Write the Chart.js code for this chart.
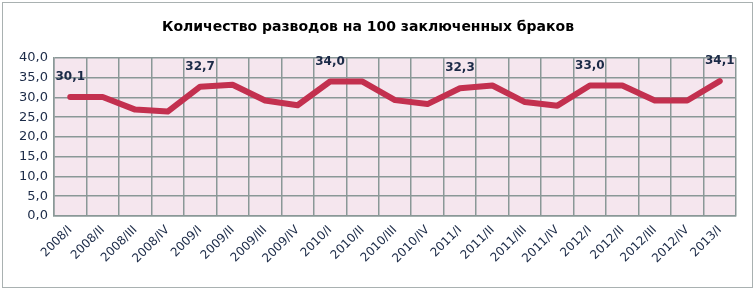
<!DOCTYPE html>
<html>
<head>
<meta charset="utf-8">
<script src="https://cdn.jsdelivr.net/npm/chart.js@4/dist/chart.umd.min.js"></script>
<style>
  body { margin: 0; background: #fff; }
  #wrap { position: relative; width: 756px; height: 290px; }
  #frame { position: absolute; left: 2px; top: 2px; width: 749px; height: 284px; border: 1.5px solid #a9b1b1; pointer-events: none; }
</style>
</head>
<body>
<div id="wrap">
  <canvas id="chart" width="756" height="290"></canvas>
  <div id="frame"></div>
</div>
<script>
const quarters = ['2008/I', '2008/II', '2008/III', '2008/IV',
  '2009/I', '2009/II', '2009/III', '2009/IV',
  '2010/I', '2010/II', '2010/III', '2010/IV',
  '2011/I', '2011/II', '2011/III', '2011/IV',
  '2012/I', '2012/II', '2012/III', '2012/IV',
  '2013/I'];
const divorces = [30.1, 30.1, 26.9, 26.4,
  32.7, 33.2, 29.2, 28.0,
  34.0, 34.0, 29.3, 28.3,
  32.3, 33.0, 28.8, 27.9,
  33.0, 33.0, 29.2, 29.2,
  34.1];
const labelledIdx = [0, 4, 8, 12, 16, 20];

const colors = {
  line: '#c3304f',
  plotBg: '#f5e6ee',
  grid: '#8a9897',
  text: '#1b2a47'
};

const fmt = v => v.toFixed(1).replace('.', ',');

const plotBackground = {
  id: 'plotBackground',
  beforeDraw(chart) {
    const { ctx, chartArea: a } = chart;
    ctx.save();
    ctx.fillStyle = colors.plotBg;
    ctx.fillRect(a.left, a.top, a.right - a.left, a.bottom - a.top);
    ctx.restore();
  }
};

const pointLabels = {
  id: 'pointLabels',
  afterDatasetsDraw(chart) {
    const { ctx } = chart;
    const meta = chart.getDatasetMeta(0);
    ctx.save();
    ctx.font = 'bold 12px "DejaVu Sans"';
    ctx.fillStyle = colors.text;
    ctx.textAlign = 'center';
    ctx.textBaseline = 'middle';
    labelledIdx.forEach(i => {
      const p = meta.data[i];
      ctx.fillText(fmt(divorces[i]), p.x, p.y - 20);
    });
    ctx.restore();
  }
};

new Chart(document.getElementById('chart'), {
  type: 'line',
  data: {
    labels: quarters,
    datasets: [{
      data: divorces,
      borderColor: colors.line,
      borderWidth: 6,
      borderCapStyle: 'round',
      borderJoinStyle: 'round',
      pointRadius: 0,
      tension: 0
    }]
  },
  options: {
    responsive: false,
    animation: false,
    layout: { padding: { left: 0, right: 20, top: 0, bottom: 0 } },
    plugins: {
      legend: { display: false },
      tooltip: { enabled: false },
      title: {
        display: true,
        text: 'Количество разводов на 100 заключенных браков',
        color: '#000',
        font: { family: 'DejaVu Sans', size: 14, weight: 'bold' },
        padding: { top: 19, bottom: 22 }
      }
    },
    scales: {
      x: {
        offset: true,
        grid: { offset: true, color: colors.grid, lineWidth: 1.5, drawTicks: false },
        border: { color: colors.grid, width: 1.5 },
        ticks: {
          color: colors.text,
          font: { family: 'DejaVu Sans', size: 12 },
          maxRotation: 45,
          minRotation: 45,
          autoSkip: false,
          padding: 7
        },
        afterFit(scale) { scale.height = 74; }
      },
      y: {
        min: 0,
        max: 40,
        grid: { color: colors.grid, lineWidth: 1.5, drawTicks: false },
        border: { color: colors.grid, width: 1.5 },
        ticks: {
          stepSize: 5,
          autoSkip: false,
          color: colors.text,
          font: { family: 'DejaVu Sans', size: 13 },
          padding: 6,
          callback: v => fmt(v)
        },
        afterFit(scale) { scale.width = 54; }
      }
    }
  },
  plugins: [plotBackground, pointLabels]
});
</script>
</body>
</html>
